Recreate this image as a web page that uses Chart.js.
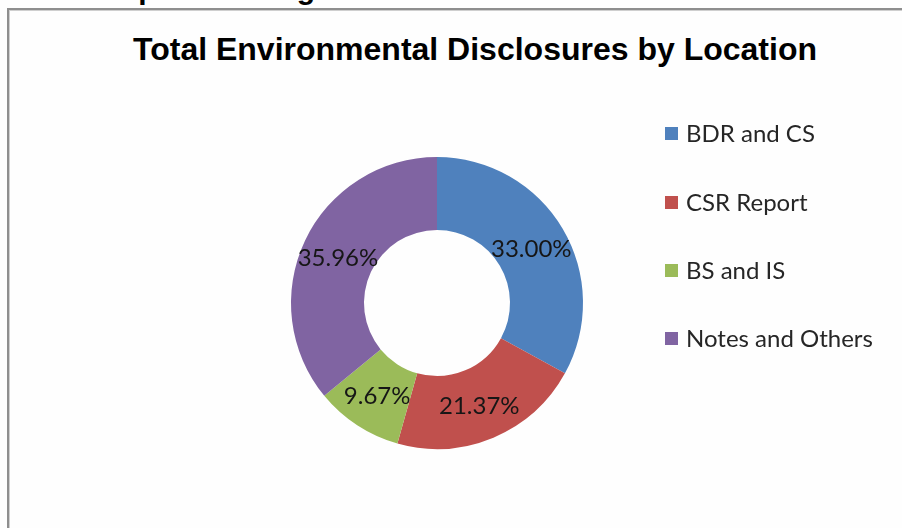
<!DOCTYPE html>
<html>
<head>
<meta charset="utf-8">
<script src="https://cdn.jsdelivr.net/npm/chart.js@4/dist/chart.umd.min.js"></script>
<style>
  html, body { margin: 0; padding: 0; width: 902px; height: 528px; overflow: hidden; background: #fefefe; }
  #heading { position: absolute; left: 100px; top: -26px; font: bold 30px "Liberation Sans", Arial, sans-serif; line-height: 30px; color: #000; white-space: nowrap; }
  #frame { position: absolute; left: 7px; top: 8px; width: 1000px; height: 600px; border-left: 2px solid #8e8e8e; border-top: 2px solid #8e8e8e; box-shadow: inset 1px 1px 0 #cfcfcf; background: #fefefe; }
  #title { position: absolute; left: 475px; top: 33px; transform: translateX(-50%); font: bold 32px "Liberation Sans", Arial, sans-serif; line-height: 32px; color: #000; white-space: nowrap; }
  #chart { position: absolute; left: 0; top: 0; }
  .legend-row { position: absolute; left: 665px; height: 24px; display: flex; align-items: center; font: 24px Lato, "Open Sans", sans-serif; line-height: 24px; color: #262626; white-space: nowrap; }
  .legend-box { width: 13px; height: 13px; margin-right: 8px; flex: none; }
</style>
</head>
<body>
<div id="heading">Reports during</div>
<div id="frame"></div>
<div id="title">Total Environmental Disclosures by Location</div>
<canvas id="chart" width="902" height="528"></canvas>
<div id="legend"></div>
<script>
// Share of environmental disclosures by where they appear (percent)
const categories = ['BDR and CS', 'CSR Report', 'BS and IS', 'Notes and Others'];
const shares = [33.00, 21.37, 9.67, 35.96];
const sliceColors = ['#4F81BD', '#C0504D', '#9BBB59', '#8064A2'];

// Legend rows, top to bottom
const legendCenters = [133, 202, 270, 338];
const legend = document.getElementById('legend');
categories.forEach((name, i) => {
  const row = document.createElement('div');
  row.className = 'legend-row';
  row.style.top = (legendCenters[i] - 12) + 'px';
  const box = document.createElement('span');
  box.className = 'legend-box';
  box.style.background = sliceColors[i];
  const txt = document.createElement('span');
  txt.textContent = name;
  row.appendChild(box);
  row.appendChild(txt);
  legend.appendChild(row);
});

// Percentage labels placed in the middle of each ring segment
const sliceLabels = {
  id: 'sliceLabels',
  afterDatasetsDraw(chart) {
    const ctx = chart.ctx;
    const meta = chart.getDatasetMeta(0);
    const values = chart.data.datasets[0].data;
    ctx.save();
    ctx.font = '24px Lato, "Open Sans", sans-serif';
    ctx.fillStyle = '#161616';
    ctx.textAlign = 'center';
    ctx.textBaseline = 'middle';
    meta.data.forEach((arc, i) => {
      const p = arc.getCenterPoint();
      ctx.fillText(values[i].toFixed(2) + '%', p.x, p.y + 2);
    });
    ctx.restore();
  }
};

new Chart(document.getElementById('chart'), {
  type: 'doughnut',
  data: {
    labels: categories,
    datasets: [{
      data: shares,
      backgroundColor: sliceColors,
      borderWidth: 0,
      hoverOffset: 0
    }]
  },
  options: {
    responsive: false,
    animation: false,
    events: [],
    cutout: '50%',
    layout: { padding: { left: 291, top: 157, right: 319, bottom: 79 } },
    plugins: {
      legend: { display: false },
      title: { display: false },
      tooltip: { enabled: false }
    }
  },
  plugins: [sliceLabels]
});
</script>
</body>
</html>
